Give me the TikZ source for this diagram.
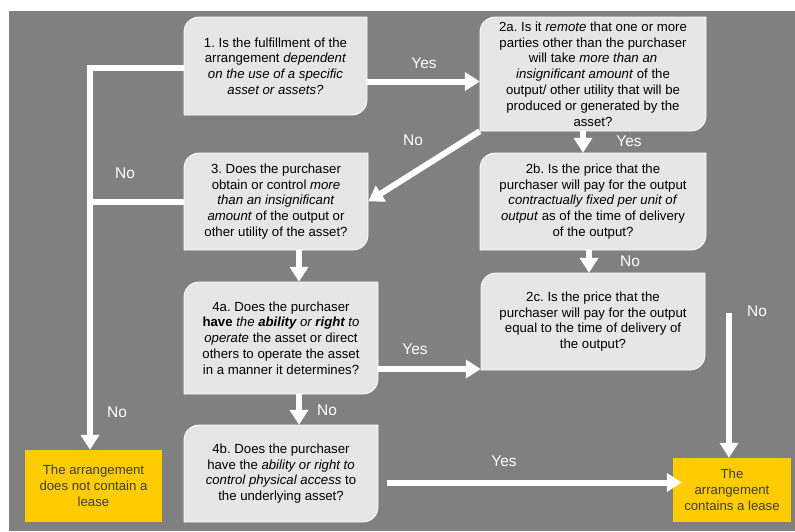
\documentclass[tikz,border=0pt]{standalone}
\usepackage{fontspec}
\setmainfont{Liberation Sans}
\usetikzlibrary{arrows.meta}
\definecolor{bg}{HTML}{808080}
\definecolor{boxfill}{HTML}{E6E6E6}
\definecolor{yel}{HTML}{FFCC00}
\definecolor{ytext}{HTML}{3F3F3F}
\newcommand\qbox[6]{%
  \path[qshape] (#2,#5) -- (#2,#3+15) .. controls +(0,-8.3) and +(-8.3,0) .. (#2+15,#3) -- (#4,#3) -- (#4,#5-15) .. controls +(0,8.3) and +(8.3,0) .. (#4-15,#5) -- cycle;
  \node[qnode, minimum width={(#4-#2)*1pt}, minimum height={(#5-#3)*1pt}] (#1) at ({(#2+#4)/2},{(#3+#5)/2}) {#6};
}
\frenchspacing
\begin{document}
\begin{tikzpicture}[x=1pt,y=-1pt,
  qshape/.style={fill=boxfill, draw=white, line width=0.8pt},
  qnode/.style={inner sep=0pt, align=center, font=\fontsize{13.2}{15.8}\selectfont\frenchspacing, text=black},
  ynode/.style={fill=yel, inner sep=0pt, align=center, font=\fontsize{13.2}{15.8}\selectfont, text=ytext},
  arr/.style={draw=white, line width=6pt, line join=miter, -{Triangle[width=18pt,length=15pt]}},
  ln/.style={draw=white, line width=6pt},
  lbl/.style={text=white, font=\fontsize{15.5}{18}\selectfont, inner sep=0pt}]
\useasboundingbox (0,0) rectangle (795,531);
\fill[bg] (9,11) rectangle (795,531);

\qbox{b1}{184}{17}{367}{115}{1. Is the fulfillment of the\\ arrangement \textit{dependent}\\ \textit{on the use of a specific}\\ \textit{asset or assets?}}
\qbox{b2a}{480}{17}{706}{131}{2a. Is it \textit{remote} that one or more\\ parties other than the purchaser\\ will take \textit{more than an}\\ \textit{insignificant amount} of the\\ output/ other utility that will be\\ produced or generated by the\\ asset?}
\qbox{b3}{184}{153}{368}{250}{3. Does the purchaser\\ obtain or control \textit{more}\\ \textit{than an insignificant}\\ \textit{amount} of the output or\\ other utility of the asset?}
\qbox{b2b}{480}{153}{706}{250}{2b. Is the price that the\\ purchaser will pay for the output\\ \textit{contractually fixed per unit of}\\ \textit{output} as of the time of delivery\\ of the output?}
\qbox{b2c}{481}{273}{705}{370}{2c. Is the price that the\\ purchaser will pay for the output\\ equal to the time of delivery of\\ the output?}
\qbox{b4a}{184}{282}{378}{394}{4a. Does the purchaser\\ \textbf{have} \textit{the \textbf{ability} or \textbf{right} to}\\ \textit{operate} the asset or direct\\ others to operate the asset\\ in a manner it determines?}
\qbox{b4b}{184}{425}{378}{522}{4b. Does the purchaser\\ have the \textit{ability or right to}\\ \textit{control physical access} to\\ the underlying asset?}

\node[ynode, minimum width=137pt, minimum height=72pt] (yl) at (93.5,486) {The arrangement\\ does not contain a\\ lease};
\node[ynode, minimum width=118pt, minimum height=64pt] (yr) at (732,490) {The\\ arrangement\\ contains a lease};

\coordinate (jn) at (90,67.5);
\coordinate (nstart) at (729,313);

% connectors
\draw[arr] ([yshift=-15.5pt]b1.east) -- ([yshift=-15.5pt]b1.east -| b2a.west);
\draw[arr] ([yshift=-1.5pt]b1.west) -- (jn) -- (jn |- yl.north);
\draw[ln] (b3.west) -- (b3.west -| jn);
\draw[arr] (b2a.south west) -- (b3.east);
\draw[arr] ([xshift=-10pt]b2a.south) -- ([xshift=-10pt]b2a.south |- b2b.north);
\draw[arr] ([xshift=23pt]b3.south) -- ([xshift=23pt]b3.south |- b4a.north);
\draw[arr] ([xshift=-4pt]b2b.south) -- ([xshift=-4pt]b2b.south |- b2c.north);
\draw[arr] ([yshift=-31pt]b4a.east) -- ([yshift=-31pt]b4a.east -| b2c.west);
\draw[arr] ([xshift=18pt]b4a.south) -- ([xshift=18pt]b4a.south |- b4b.north);
\draw[arr] ([xshift=9pt,yshift=-9pt]b4b.east) -- ([xshift=9pt,yshift=-9pt]b4b.east -| yr.west);
\draw[arr] (nstart) -- (nstart |- yr.north);

% labels
\node[lbl] (l1) at (424,63) {Yes};
\node[lbl] (l2) at (125,173) {No};
\node[lbl] (l3) at (117,412) {No};
\node[lbl] (l4) at (413,140) {No};
\node[lbl] (l5) at (629,141) {Yes};
\node[lbl] (l6) at (630,261) {No};
\node[lbl] (l7) at (415,349) {Yes};
\node[lbl] (l8) at (327,410) {No};
\node[lbl] (l9) at (504,461) {Yes};
\node[lbl] (l10) at (757,311) {No};
\end{tikzpicture}
\end{document}
